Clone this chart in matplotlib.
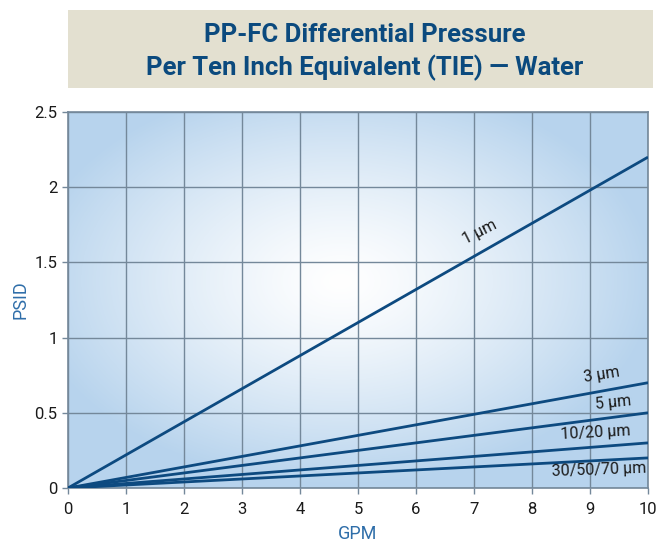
import matplotlib
matplotlib.use("Agg")
import matplotlib.pyplot as plt
import numpy as np
from matplotlib.patches import Rectangle

gpm = [0, 10]
series = {
    "1 µm": [0, 2.2],
    "3 µm": [0, 0.7],
    "5 µm": [0, 0.5],
    "10/20 µm": [0, 0.3],
    "30/50/70 µm": [0, 0.2],
}
label_pos = {
    "1 µm": (7.1, 1.70, 27),
    "3 µm": (9.2, 0.75, 9),
    "5 µm": (9.4, 0.565, 6),
    "10/20 µm": (9.1, 0.37, 3),
    "30/50/70 µm": (9.15, 0.12, 2),
}
xticks = list(range(0, 11))
yticks = [0, 0.5, 1, 1.5, 2, 2.5]
ytick_labels = ["0", "0.5", "1", "1.5", "2", "2.5"]

font = ["Roboto", "DejaVu Sans"]
plt.rcParams['font.family'] = font

fig = plt.figure(figsize=(6.56, 5.46), dpi=100)
# title box
fig.patches.append(Rectangle((68/656, 1-88/546), (653-68)/656, (88-10)/546,
                             transform=fig.transFigure, facecolor="#e3e0d0",
                             edgecolor="none", zorder=0))
fig.text(365/656, 1-35/546, "PP-FC Differential Pressure", ha="center", va="center",
         fontsize=18.5, fontweight="bold", color="#0b4a7e")
fig.text(365/656, 1-68/546, "Per Ten Inch Equivalent (TIE) — Water", ha="center", va="center",
         fontsize=18.5, fontweight="bold", color="#0b4a7e")

ax = fig.add_axes([68/656, 1-488/546, (648-68)/656, (488-112)/546])
ax.set_xlim(0, 10)
ax.set_ylim(0, 2.5)

# radial gradient background
nx, ny = 400, 300
X, Y = np.meshgrid(np.linspace(0, 1, nx), np.linspace(0, 1, ny))
cx, cy = 0.47, 0.55
r = np.sqrt(((X-cx)/0.75)**2 + ((Y-cy)/0.75)**2)
r = np.clip(r/0.72, 0, 1)
c0 = np.array([1.0, 1.0, 1.0])
c1 = np.array([0.72, 0.83, 0.93])
t = r[..., None]**1.3
img = c0*(1-t) + c1*t
ax.imshow(img, extent=[0, 10, 0, 2.5], origin="lower", aspect="auto", zorder=0)

ax.set_xticks(xticks)
ax.set_yticks(yticks)
ax.set_yticklabels(ytick_labels)
ax.grid(True, color="#74889a", linewidth=1.0, zorder=1)
for s in ax.spines.values():
    s.set_color("#74889a")
    s.set_linewidth(1.2)
ax.tick_params(axis="both", colors="#74889a", labelcolor="#1a1a1a", labelsize=12, length=4, width=1)
ax.tick_params(axis="x", pad=6)

for name, vals in series.items():
    ax.plot(gpm, vals, color="#0d4a80", linewidth=2, zorder=3, solid_capstyle="butt")
    x, y, rot = label_pos[name]
    ax.text(x, y, name, ha="center", va="center", rotation=rot, fontsize=11.5,
            color="#1a1a1a", zorder=4)

ax.set_xlabel("GPM", color="#2f6ea9", fontsize=13, labelpad=6)
ax.set_ylabel("PSID", color="#2f6ea9", fontsize=13, labelpad=4)

fig.savefig("out.png", dpi=100)
